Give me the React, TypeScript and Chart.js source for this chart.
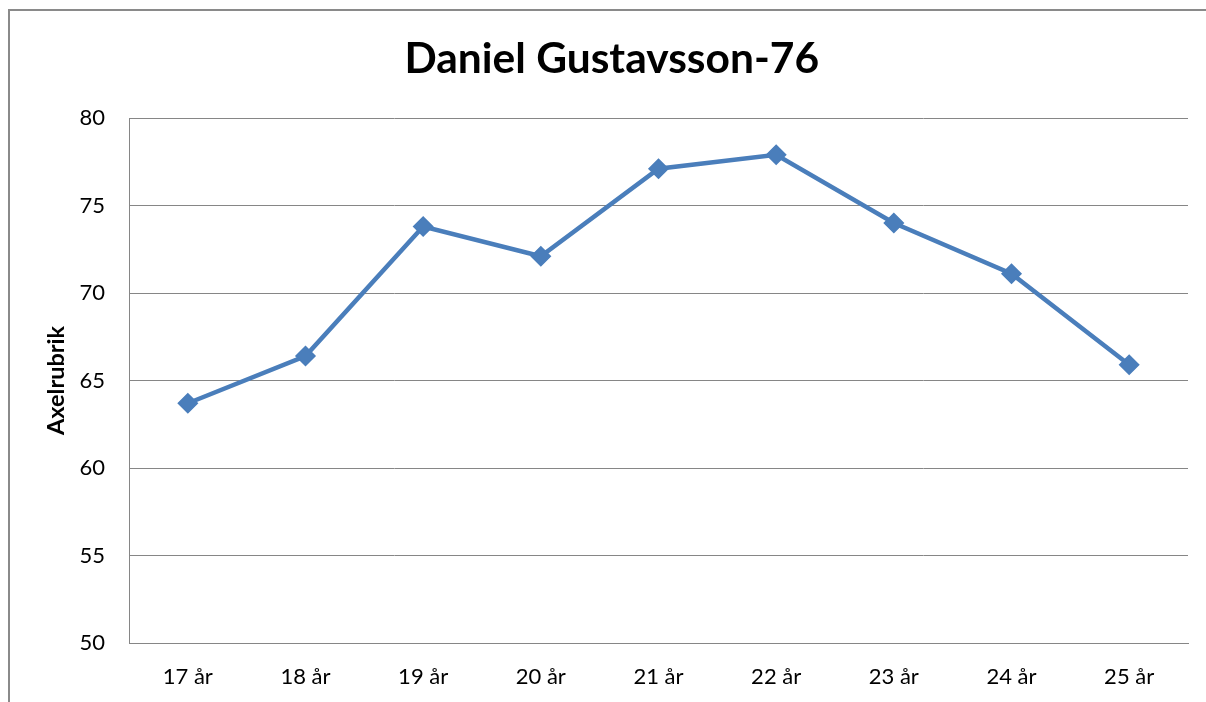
import React, { useEffect, useRef } from "react";
import { Chart, registerables } from "chart.js";

Chart.register(...registerables);

const TITLE = "Daniel Gustavsson-76";
const Y_TITLE = "Axelrubrik";
const categories = ["17 år", "18 år", "19 år", "20 år", "21 år", "22 år", "23 år", "24 år", "25 år"];
const values = [63.7, 66.4, 73.8, 72.1, 77.1, 77.9, 74.0, 71.1, 65.9];
const yMin = 50;
const yMax = 80;
const yStep = 5;

const LINE = "#4a7ebb";
const GRID = "#868686";
const FONT = "Lato, 'Open Sans', sans-serif";

export default function App() {
  const ref = useRef<HTMLCanvasElement | null>(null);

  useEffect(() => {
    if (!ref.current) return;
    const shiftTitle = {
      id: "shiftTitle",
      afterLayout(chart: any) {
        const t = chart.titleBlock;
        if (t) {
          t.left += 12.75;
          t.right += 12.75;
        }
      },
    };
    const chart = new Chart(ref.current, {
      type: "line",
      data: {
        labels: categories,
        datasets: [
          {
            label: TITLE,
            data: values,
            borderColor: LINE,
            backgroundColor: LINE,
            borderWidth: 4.5,
            tension: 0,
            pointStyle: "rectRot",
            pointRadius: 9.5,
            pointBackgroundColor: LINE,
            pointBorderColor: LINE,
            pointBorderWidth: 1.5,
          },
        ],
      },
      options: {
        animation: false,
        responsive: false,
        maintainAspectRatio: false,
        layout: { padding: { left: 0, right: 18, top: 0, bottom: 0 } },
        plugins: {
          legend: { display: false },
          tooltip: { enabled: false },
          title: {
            display: true,
            text: TITLE,
            color: "#000",
            font: { family: FONT, size: 42.5, weight: "bold" },
            padding: { top: 22.5, bottom: 33.5 },
          },
        },
        scales: {
          x: {
            offset: true,
            grid: { display: true, drawOnChartArea: false, drawTicks: false, offset: true },
            border: { display: true, color: GRID, width: 1 },
            ticks: {
              color: "#000",
              padding: 21,
              font: { family: FONT, size: 22 },
              maxRotation: 0,
            },
            afterFit(scale: any) {
              scale.height = 59;
            },
          },
          y: {
            min: yMin,
            max: yMax,
            grid: { color: GRID, lineWidth: 1, drawTicks: false },
            border: { display: true, color: GRID, width: 1 },
            ticks: {
              stepSize: yStep,
              color: "#000",
              padding: 24,
              font: { family: FONT, size: 22 },
            },
            title: {
              display: true,
              text: Y_TITLE,
              color: "#000",
              font: { family: FONT, size: 23.5, weight: "bold" },
              padding: { top: 32.6, bottom: 0 },
            },
            afterFit(scale: any) {
              scale.width = 119;
            },
          },
        },
      },
      plugins: [shiftTitle],
    });
    return () => chart.destroy();
  }, []);

  return (
    <div
      style={{
        position: "absolute",
        left: 8,
        top: 9,
        borderLeft: "2px solid #8a8a8a",
        borderTop: "2px solid #8a8a8a",
        width: 1196,
        height: 691,
        background: "#fff",
      }}
    >
      <canvas ref={ref} width={1196} height={691} style={{ display: "block" }} />
    </div>
  );
}
